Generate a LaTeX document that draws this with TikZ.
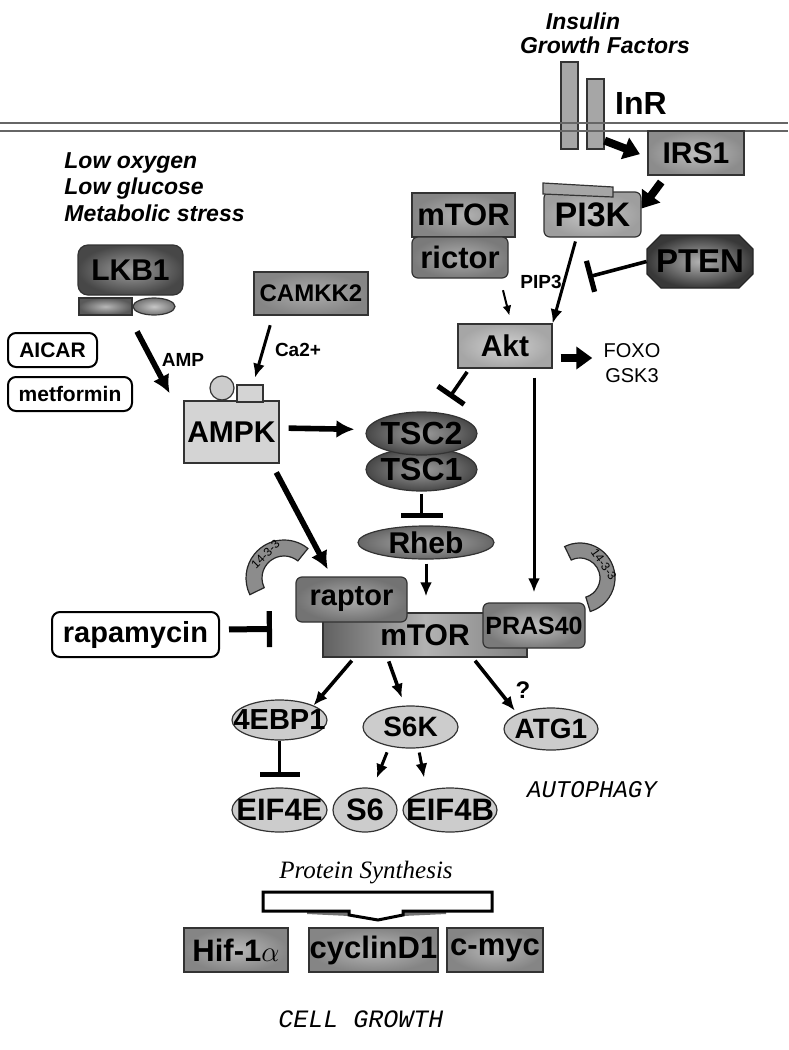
\documentclass[tikz,border=0pt]{standalone}
\usepackage{fontspec}
\setmainfont{Liberation Sans}
\newfontfamily\courfont{Liberation Mono}
\newfontfamily\timesfont{Liberation Serif}
\usetikzlibrary{arrows.meta,positioning,calc,shapes.geometric}

\newcommand{\fsz}[1]{\fontsize{#1}{#1}\selectfont}
\newcommand{\ctext}[1]{\makebox[0pt]{#1}}

\begin{document}
\begin{tikzpicture}[x=0.5pt,y=-0.5pt,
    prot/.style={draw=black!80, line width=0.6pt, inner sep=0pt, font=\bfseries\fsz{15}},
    rbox/.style={prot, rounded corners=3pt},
    oval/.style={prot, ellipse},
    drug/.style={draw, line width=1pt, rounded corners=4pt, fill=white, inner sep=0pt, font=\bfseries\fsz{#1}},
    lbl/.style={font=\bfseries\fsz{#1}, inner sep=0pt},
    ital/.style={font=\bfseries\itshape\fsz{11.5}, inner sep=0pt},
    act/.style={-{Latex[length=7pt,width=6pt]}, line width=1.5pt},
    fat/.style={-{Latex[length=9pt,width=9pt]}, line width=2.8pt},
    bigarr/.style={-{Triangle[length=8pt,width=11pt]}, line width=4pt},
    inh/.style={-{Bar[width=#1,line width=2.6pt]}, line width=1.8pt},
  ]
  \useasboundingbox (0,0) rectangle (788,1050);

  % receptor and membrane
  \node[ital] (insulin) at (583,21) {Insulin};
  \node[ital] (gf) at (605,45) {Growth Factors};
  \node[prot, fill=black!35, minimum width=8.5pt, minimum height=43.5pt] (inr1) at (569.5,105.5) {};
  \node[prot, fill=black!35, minimum width=8.5pt, minimum height=35pt] (inr2) at (595.5,114) {};
  \node[lbl=16] (inrl) at (641,103) {InR};
  \draw[black!60, line width=1pt] (0,123) -- (788,123);
  \draw[black!60, line width=1pt] (0,131) -- (788,131);

  % upstream
  \node[prot, inner color=black!25, outer color=black!45, minimum width=48pt, minimum height=22pt] (irs1) at (696,153) {IRS1};
  \node[rbox, inner color=black!22, outer color=black!38, minimum width=48.5pt, minimum height=22.5pt, font=\bfseries\fsz{17}] (pi3k) at (592.5,214.5) {PI3K};
  \filldraw[draw=black!80, fill=black!35, line width=0.6pt] (543,183) -- (613,187) -- (613,197) -- (543,194) -- cycle;
  \node[prot, inner color=black!30, outer color=black!48, minimum width=51.5pt, minimum height=22pt, font=\bfseries\fsz{15.5}] (mtor2) at (463.5,215) {mTOR};
  \node[rbox, inner color=black!32, outer color=black!52, minimum width=48pt, minimum height=20.5pt, font=\bfseries\fsz{15.5}] (rictor) at (460,257.5) {rictor};
  \shade[draw=black!85, line width=0.6pt, inner color=black!30, outer color=black!78]
    (661,235) -- (739,235) -- (753,249) -- (753,274) -- (739,288) -- (661,288) -- (647,274) -- (647,249) -- cycle;
  \node[lbl=16.5, minimum width=53pt, minimum height=26.5pt] (pten) at (700,261.5) {PTEN};
  \node[prot, inner color=black!18, outer color=black!35, minimum width=47pt, minimum height=22pt] (akt) at (505,346) {Akt};
  \node[align=center, font=\fontsize{10}{12.5}\selectfont, inner sep=0pt] (foxo) at (632,363) {FOXO\\GSK3};
  \node[lbl=9.5] (pip3) at (541,282) {PIP3};
  \coordinate (pip3bar) at (588,277);

  % energy sensing
  \node[ital, align=left, anchor=west, font=\bfseries\itshape\fontsize{11.5}{13.3}\selectfont] (stress) at (64,187) {Low oxygen\\Low glucose\\Metabolic stress};
  \node[rbox, rounded corners=5pt, inner color=black!38, outer color=black!72, minimum width=52.5pt, minimum height=25pt] (lkb1) at (130.5,270) {LKB1};
  \node[prot, inner color=black!28, outer color=black!65, minimum width=26.5pt, minimum height=8.5pt] (lkb1a) at (105.5,306.5) {};
  \node[oval, inner color=black!22, outer color=black!55, minimum width=21pt, minimum height=8.5pt] (lkb1b) at (154,306.5) {};
  \node[prot, inner color=black!32, outer color=black!48, minimum width=57pt, minimum height=21.5pt, font=\bfseries\fsz{12}] (camkk2) at (311,293.5) {CAMKK2};
  \node[drug=10.5, minimum width=44.5pt, minimum height=17pt] (aicar) at (52.5,350) {AICAR};
  \node[drug=10.5, minimum width=62pt, minimum height=17pt] (metf) at (70,394) {metformin};
  \node[prot, fill=black!17, minimum width=47.5pt, minimum height=31pt] (ampk) at (231.5,432) {AMPK};
  \node[prot, circle, fill=black!20, minimum size=12pt] (ampkc) at (222,388) {};
  \node[prot, fill=black!17, minimum width=13pt, minimum height=8.5pt] (ampkr) at (250,393.5) {};
  \node[lbl=9.5] (amp) at (183,360) {AMP};
  \node[lbl=9.5] (ca) at (298,350) {Ca2+};

  % TSC / Rheb
  \node[oval, inner color=black!38, outer color=black!72, minimum width=55.5pt, minimum height=21.5pt, font=\bfseries\fsz{16}] (tsc1) at (421.5,469.5) {\ctext{TSC1}};
  \node[oval, inner color=black!38, outer color=black!72, minimum width=55.5pt, minimum height=21.5pt, font=\bfseries\fsz{16}] (tsc2) at (421.5,433.5) {\ctext{TSC2}};
  \node[oval, inner color=black!32, outer color=black!60, minimum width=68pt, minimum height=16.5pt] (rheb) at (426,542.5) {\ctext{Rheb}};

  % mTORC1
  \filldraw[draw=black!85, fill=black!45, line width=0.6pt] (284,578) ++(-51:38) arc[start angle=-51, end angle=-206, radius=38]
    -- ($(284,578)+(-206:22)$) arc[start angle=-206, end angle=-51, radius=22] -- cycle;
  \node[font=\fsz{6}, rotate=45, inner sep=0pt] (l1433) at ($(284,578)+(-128:30)$) {14-3-3};
  \filldraw[draw=black!85, fill=black!45, line width=0.6pt] (580,578) ++(-116:35) arc[start angle=-116, end angle=73, radius=35]
    -- ($(580,578)+(73:20)$) arc[start angle=73, end angle=-116, radius=20] -- cycle;
  \node[font=\fsz{6}, rotate=-55, inner sep=0pt] (r1433) at ($(580,578)+(-30:27.5)$) {14-3-3};
  \node[prot, left color=black!62, right color=black!50, middle color=black!30, minimum width=102pt, minimum height=22pt] (mtor) at (425,635) {mTOR};
  \node[rbox, inner color=black!32, outer color=black!55, minimum width=55.5pt, minimum height=22.5pt, font=\bfseries\fsz{14.5}] (raptor) at (351.5,599.5) {raptor};
  \node[rbox, inner color=black!25, outer color=black!52, minimum width=51pt, minimum height=22.5pt, font=\bfseries\fsz{12.5}] (pras40) at (534,625.5) {PRAS40};
  \node[drug=14.5, minimum width=83.5pt, minimum height=22.5pt] (rapa) at (135.5,634.5) {rapamycin};
  \coordinate (rapabar) at (272,629);

  % downstream
  \node[oval, fill=black!20, minimum width=47.5pt, minimum height=20pt, font=\bfseries\fsz{14.5}] (ebp) at (279.5,720) {\ctext{4EBP1}};
  \node[oval, fill=black!20, minimum width=47.5pt, minimum height=21pt, font=\bfseries\fsz{14}] (s6k) at (410.5,727) {\ctext{S6K}};
  \node[oval, fill=black!20, minimum width=47pt, minimum height=21pt, font=\bfseries\fsz{14}] (atg1) at (551,729) {\ctext{ATG1}};
  \node[oval, fill=black!20, minimum width=47.5pt, minimum height=22pt, font=\bfseries\fsz{15.5}] (eif4e) at (279.5,810) {\ctext{EIF4E}};
  \node[oval, fill=black!20, minimum width=32pt, minimum height=22pt, font=\bfseries\fsz{15.5}] (s6) at (365,810) {\ctext{S6}};
  \node[oval, fill=black!20, minimum width=47pt, minimum height=22pt, font=\bfseries\fsz{15.5}] (eif4b) at (450,810) {\ctext{EIF4B}};
  \node[font=\bfseries\fsz{12}, inner sep=0pt] (q) at (523,690) {?};
  \node[font=\courfont\itshape\fsz{12}, inner sep=0pt] (autoph) at (592,790) {AUTOPHAGY};

  \node[font=\timesfont\itshape\fsz{12.5}, inner sep=0pt] (protsyn) at (366,873) {Protein Synthesis};
  \fill[black!55] (307,911) -- (349,911) -- (349,916) -- (307,914) -- cycle;
  \fill[black!55] (403,911) -- (446,911) -- (446,914) -- (403,916) -- cycle;
  \filldraw[fill=white, draw=black, line width=1.5pt] (263,892) -- (492,892) -- (492,911) -- (403,911) -- (403,915)
    -- (378,920) -- (349,915) -- (349,911) -- (263,911) -- cycle;
  \node[prot, inner color=black!28, outer color=black!48, minimum width=52pt, minimum height=22pt, font=\bfseries\fsz{15.5}] (hif) at (236,950) {Hif-1$\alpha$};
  \node[prot, inner color=black!28, outer color=black!48, minimum width=64.5pt, minimum height=22pt, font=\bfseries\fsz{15.5}] (cycd) at (373.5,950) {cyclinD1};
  \node[prot, inner color=black!28, outer color=black!48, minimum width=48pt, minimum height=22pt, font=\bfseries\fsz{15.5}] (myc) at (495,950) {c-myc};
  \node[font=\courfont\itshape\fsz{12.5}, inner sep=0pt] (growth) at (361,1019) {CELL GROWTH};

  % connectors
  \draw[bigarr, shorten >=4pt] ([yshift=4.5pt]inr2.south east) -- ([yshift=-2pt]irs1.west);
  \draw[bigarr, shorten <=4pt] ([xshift=-15pt]irs1.south) -- ([yshift=3pt]pi3k.east);
  \draw[act, shorten <=2pt] ([xshift=-8pt]pi3k.south) -- (akt.north east);
  \draw[inh=16pt] (pten.west) -- (pip3bar);
  \draw[-{Latex[length=5pt,width=4.5pt]}, line width=1pt, shorten <=6pt, shorten >=4pt] ([xshift=20pt]rictor.south) -- ([xshift=27pt]akt.north west);
  \draw[bigarr, shorten <=4pt, shorten >=5.5pt] ([yshift=-6pt]akt.east) -- ([yshift=2.5pt]foxo.west);
  \draw[inh=16pt, shorten <=2pt] ([xshift=6pt]akt.south west) -- ([xshift=14pt,yshift=7pt]tsc2.north);
  \draw[act, shorten <=4.5pt, shorten >=5pt] (akt.south -| pras40.north) -- (pras40.north);
  \draw[fat, shorten <=4.5pt, shorten >=5.5pt] ([yshift=2pt]ampk.east) -- ([yshift=2pt]tsc2.west);
  \draw[fat, shorten <=5pt, shorten >=4pt] ([xshift=-4pt]ampk.south east) -- ([xshift=-10pt]raptor.north);
  \draw[act, shorten <=5pt, shorten >=3.5pt] ([xshift=-19pt]camkk2.south) -- ([xshift=1.5pt]ampkr.north);
  \draw[fat, shorten <=9pt, shorten >=4pt] ([xshift=-2pt]lkb1a.south east) -- ([xshift=-5pt]ampk.north west);
  \draw[inh=21pt, shorten <=1pt, shorten >=3.5pt] (tsc1.south) -- (tsc1.south |- rheb.north);
  \draw[act, shorten <=2pt, shorten >=8pt] (rheb.south) -- (rheb.south |- mtor.north);
  \draw[inh=18pt, line width=3pt, shorten <=4.5pt] ([yshift=2.5pt]rapa.east) -- (rapabar);
  \draw[act, line width=1.8pt, shorten <=2pt] ([xshift=16pt]mtor.south west) -- (ebp.north east);
  \draw[act, line width=1.8pt, shorten <=2pt, shorten >=4pt] ([xshift=32.5pt]mtor.south west) -- ([xshift=-3pt]s6k.north);
  \draw[act, line width=1.8pt, shorten <=2pt, shorten >=2pt] ([xshift=-27.5pt]mtor.south east) -- (atg1.north west);
  \draw[inh=20pt, shorten >=5pt] (ebp.south) -- (eif4e.north);
  \draw[act, shorten <=2pt, shorten >=5pt] ([xshift=-11pt]s6k.south) -- ([xshift=4pt]s6.north);
  \draw[act, shorten <=2pt, shorten >=5pt] ([xshift=4pt]s6k.south) -- ([xshift=-12pt]eif4b.north);
\end{tikzpicture}
\end{document}
